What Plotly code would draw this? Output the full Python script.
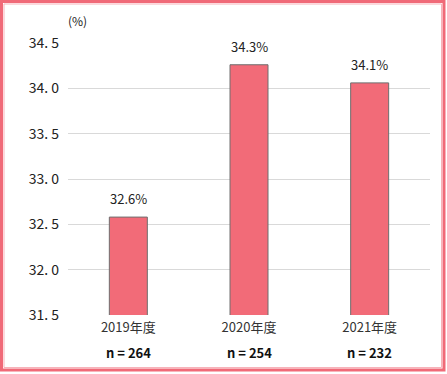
import plotly.graph_objects as go

categories = ["2019年度", "2020年度", "2021年度"]
sample_sizes = ["n = 264", "n = 254", "n = 232"]
values = [32.58, 34.26, 34.06]
value_labels = ["32.6%", "34.3%", "34.1%"]
y_ticks = [31.5, 32.0, 32.5, 33.0, 33.5, 34.0, 34.5]
y_tick_labels = ["31. 5", "32. 0", "32. 5", "33. 0", "33. 5", "34. 0", "34. 5"]

W, H = 447, 374
ML, MR, MT, MB = 68, 17, 43, 59
PW, PH = W - ML - MR, H - MT - MB

def px_x(p):
    return (p - ML) / PW

def px_y(p):
    return (H - MB - p) / PH

font_family = "Noto Sans CJK JP, DejaVu Sans, sans-serif"

fig = go.Figure(go.Bar(
    x=categories,
    y=values,
    marker=dict(color="#f26b78", line=dict(color="#6e6e6e", width=1)),
    width=0.315,
    hoverinfo="skip",
))

annotations = [dict(
    text="(%)", x=px_x(77), y=px_y(20), xref="paper", yref="paper",
    showarrow=False, font=dict(size=12, color="#222"),
    xanchor="center", yanchor="middle",
)]
for c, v, lab in zip(categories, values, value_labels):
    annotations.append(dict(
        text=lab, x=c, y=v, xref="x", yref="y", showarrow=False,
        yanchor="bottom", yshift=7, font=dict(size=13, color="#222"),
    ))
for c, n in zip(categories, sample_sizes):
    annotations.append(dict(
        text=f"<b>{n}</b>", x=c, y=px_y(352), xref="x", yref="paper",
        showarrow=False, yanchor="middle",
        font=dict(size=13, color="#111"),
    ))

fig.update_layout(
    width=W, height=H,
    margin=dict(l=ML, r=MR, t=MT, b=MB),
    paper_bgcolor="white", plot_bgcolor="white",
    showlegend=False,
    font=dict(family=font_family, size=12, color="#222"),
    xaxis=dict(
        tickmode="array", tickvals=categories, ticktext=categories,
        showline=False, showgrid=False, ticks="",
        ticklabelstandoff=3,
        tickfont=dict(size=13, color="#333"),
        range=[-0.5, 2.5],
    ),
    yaxis=dict(
        range=[31.5, 34.5],
        tickmode="array", tickvals=y_ticks, ticktext=y_tick_labels,
        showgrid=True, gridcolor="#d9d9d9", gridwidth=1,
        zeroline=False, showline=False, ticks="",
        ticklabelstandoff=8,
        tickfont=dict(size=14, color="#222"),
    ),
    annotations=annotations,
    shapes=[
        dict(type="rect", xref="paper", yref="paper", layer="above",
             x0=px_x(1.5), x1=px_x(444), y0=px_y(1.5), y1=px_y(370),
             line=dict(color="#f06a78", width=3), fillcolor="rgba(0,0,0,0)"),
        dict(type="rect", xref="paper", yref="paper", layer="above",
             x0=px_x(4), x1=px_x(441.5), y0=px_y(4), y1=px_y(367.5),
             line=dict(color="#f8b3ba", width=1), fillcolor="rgba(0,0,0,0)"),
    ],
)

fig.write_html("out.html", config={"displayModeBar": False},
               post_script="document.body.style.margin='0';")
